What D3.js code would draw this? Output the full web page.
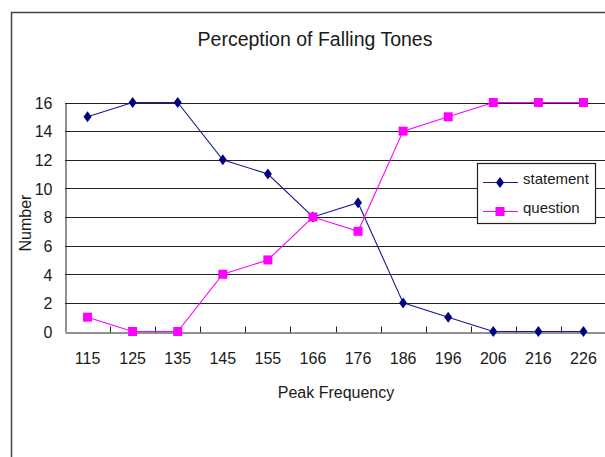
<!DOCTYPE html>
<html><head><meta charset="utf-8">
<script src="https://cdn.jsdelivr.net/npm/d3@7"></script>
<style>
html,body{margin:0;padding:0;background:#fff;}
text{font-family:"Liberation Sans",Arial,sans-serif;fill:#1a1a1a;}
</style></head>
<body>
<svg id="chart" width="605" height="457"></svg>
<script>
const categories = ["115","125","135","145","155","166","176","186","196","206","216","226"];
const statement = [15,16,16,12,11,8,9,2,1,0,0,0];
const question = [1,0,0,4,5,8,7,14,15,16,16,16];
const yTicks = [0,2,4,6,8,10,12,14,16];
const title = "Perception of Falling Tones";
const xTitle = "Peak Frequency";
const yTitle = "Number";

const svg = d3.select("#chart");
const plot = {left:65, right:606, top:102.5, bottom:331.5};

// outer chart border
svg.append("path").attr("d","M11.5,470 V12.5 H620")
  .attr("fill","none").attr("stroke","#444").attr("stroke-width",1.5);

const x = d3.scaleBand().domain(categories).range([plot.left, plot.right]);
const y = d3.scaleLinear().domain([0,16]).range([plot.bottom, plot.top]);

// gridlines
svg.append("g").selectAll("line").data(yTicks.filter(d=>d>0)).join("line")
  .attr("x1",plot.left).attr("x2",plot.right)
  .attr("y1",d=>Math.round(y(d))+0.5).attr("y2",d=>Math.round(y(d))+0.5)
  .attr("stroke","#222").attr("stroke-width",1);

// y axis
const yAxis = d3.axisLeft(y).tickValues(yTicks).tickSize(0).tickPadding(13);
const gy = svg.append("g").attr("transform",`translate(${plot.left+0.5},0)`).call(yAxis);
gy.select(".domain").attr("stroke","#222");
gy.selectAll("text").style("font-size","16px").attr("fill","#1a1a1a").attr("dy","0.36em");

// x axis
const xAxis = d3.axisBottom(x).tickSize(0).tickPadding(20);
const gx = svg.append("g").attr("transform",`translate(0,${Math.round(y(0))+0.5})`).call(xAxis);
gx.select(".domain").attr("stroke","#222");
gx.selectAll("text").style("font-size","16px").attr("fill","#1a1a1a");
// category boundary ticks (inside, upward)
gx.append("g").selectAll("line").data(categories.slice(1)).join("line")
  .attr("x1",d=>Math.round(x(d))+0.5).attr("x2",d=>Math.round(x(d))+0.5)
  .attr("y1",0).attr("y2",-6).attr("stroke","#222");

// titles
svg.append("text").attr("x",315).attr("y",46).attr("text-anchor","middle")
  .style("font-size","19.5px").text(title);
svg.append("text").attr("x",336).attr("y",398).attr("text-anchor","middle")
  .style("font-size","16px").text(xTitle);
svg.append("text").attr("transform","translate(31,223) rotate(-90)").attr("text-anchor","middle")
  .style("font-size","16px").text(yTitle);

const line = d3.line().x((d,i)=>x(categories[i])+x.bandwidth()/2).y(d=>y(d));
const diamondPath = "M0,-5.5 L4,0 L0,5.5 L-4,0 Z";

// statement
svg.append("path").datum(statement).attr("d",line).attr("fill","none")
  .attr("stroke","#1a1a8c").attr("stroke-width",1.1);
svg.append("g").selectAll("path").data(statement).join("path")
  .attr("d",diamondPath).attr("fill","#000080")
  .attr("transform",(d,i)=>`translate(${x(categories[i])+x.bandwidth()/2},${y(d)})`);

// question
svg.append("path").datum(question).attr("d",line).attr("fill","none")
  .attr("stroke","#ff00ff").attr("stroke-width",1.1);
svg.append("g").selectAll("rect").data(question).join("rect")
  .attr("x",(d,i)=>x(categories[i])+x.bandwidth()/2-4.5).attr("y",d=>y(d)-4.5)
  .attr("width",9).attr("height",9).attr("fill","#ff00ff");

// legend
const lg = svg.append("g");
lg.append("rect").attr("x",477.5).attr("y",163.5).attr("width",118).attr("height",60)
  .attr("fill","#fff").attr("stroke","#222").attr("stroke-width",1.2);
const items = [{name:"statement",color:"#1a1a8c",mark:"d"},{name:"question",color:"#ff00ff",mark:"s"}];
items.forEach((it,i)=>{
  const cy = 182.5 + i*29;
  lg.append("line").attr("x1",483).attr("x2",518).attr("y1",cy).attr("y2",cy)
    .attr("stroke",it.color).attr("stroke-width",1.1);
  if(it.mark==="d"){
    lg.append("path").attr("d",diamondPath).attr("fill","#000080")
      .attr("transform",`translate(500,${cy})`);
  } else {
    lg.append("rect").attr("x",495.5).attr("y",cy-4.5).attr("width",9).attr("height",9).attr("fill","#ff00ff");
  }
  lg.append("text").attr("x",523).attr("y",cy).attr("dy","0.1em").style("font-size","15px").text(it.name);
});
</script>
</body></html>
